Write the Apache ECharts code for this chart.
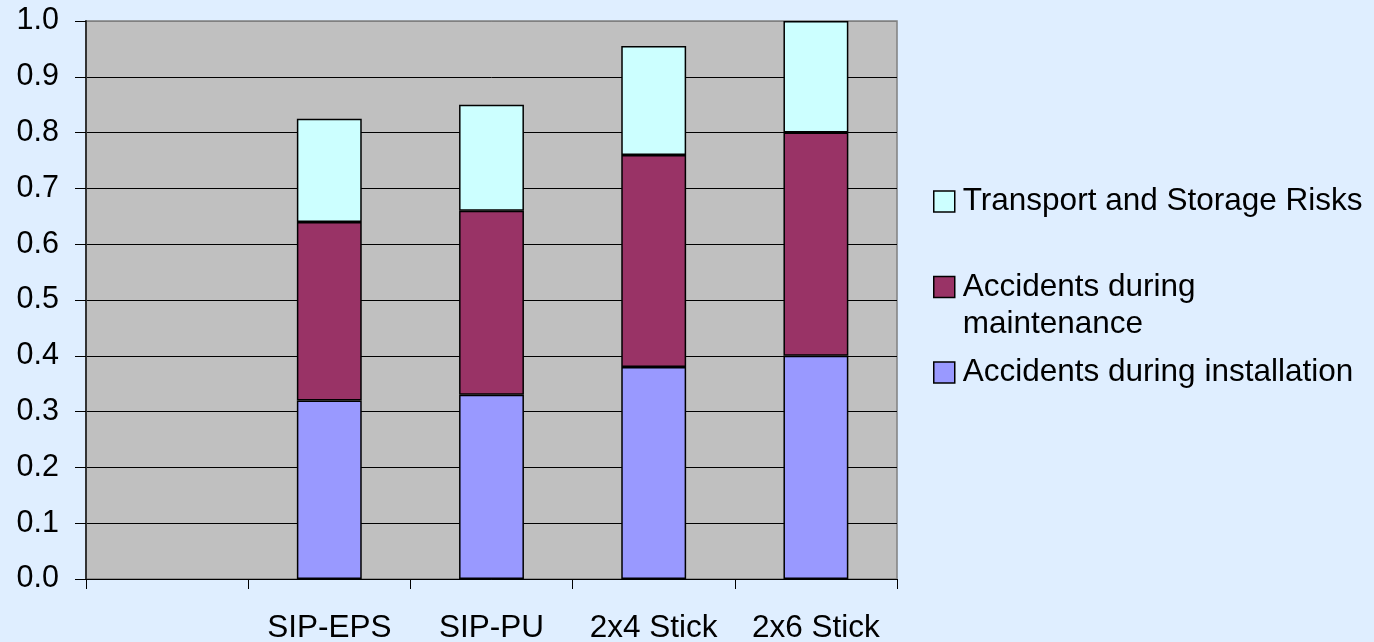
<!DOCTYPE html>
<html>
<head>
<meta charset="utf-8">
<script src="https://cdn.jsdelivr.net/npm/echarts@6/dist/echarts.min.js"></script>
<style>
html,body{margin:0;padding:0;background:#DFEEFF;}
#chart{width:1374px;height:642px;}
</style>
</head>
<body>
<div id="chart"></div>
<script>
var categories = ['', 'SIP-EPS', 'SIP-PU', '2x4 Stick', '2x6 Stick'];
var installation = [null, 0.32, 0.33, 0.38, 0.40];
var maintenance = [null, 0.32, 0.33, 0.38, 0.40];
var transport = [null, 0.185, 0.19, 0.195, 0.20];
var seriesNames = ['Accidents during installation', 'Accidents during maintenance', 'Transport and Storage Risks'];
var legendLabels = ['Accidents during installation', ' \nAccidents during\nmaintenance', 'Transport and Storage Risks'];
var colors = ['#9999FF', '#993366', '#CCFFFF'];

var FONT = '"Liberation Sans", Arial, sans-serif';
var FS = 31.5;
var FSY = 30.5;
var chart = echarts.init(document.getElementById('chart'), null, {renderer: 'canvas'});

function legendFor(i, top) {
  return {
    show: true,
    orient: 'vertical',
    left: 933,
    top: top,
    itemWidth: 21,
    itemHeight: 21,
    padding: 0,
    selectedMode: false,
    data: [{
      name: seriesNames[i],
      icon: 'rect',
      itemStyle: {color: colors[i], borderColor: '#000', borderWidth: 1.5},
      textStyle: {fontFamily: FONT, fontSize: FS, color: '#000', lineHeight: 37, padding: [0, 0, 0, 3]}
    }],
    formatter: function () { return legendLabels[i]; }
  };
}

var gridColors = ['#000','#000','#000','#000','#000','#000','#000','#000','#000','#000','#808080'];

var option = {
  backgroundColor: '#DFEEFF',
  animation: false,
  legend: [
    legendFor(2, 183),
    legendFor(1, 231.5),
    legendFor(0, 354)
  ],
  grid: {
    left: 86, right: 477, top: 21, bottom: 63,
    outerBoundsMode: 'none',
    containLabel: false,
    show: true, backgroundColor: '#C0C0C0', borderColor: '#808080', borderWidth: 1.5
  },
  xAxis: {
    type: 'category',
    data: categories,
    axisLine: {show: true, lineStyle: {color: '#000', width: 1}},
    axisTick: {show: true, length: 10, lineStyle: {color: '#000', width: 1}},
    axisLabel: {fontFamily: FONT, fontSize: FS, color: '#000', margin: 33, interval: 0},
    splitLine: {show: false}
  },
  yAxis: {
    type: 'value',
    min: 0, max: 1, interval: 0.1,
    axisLine: {show: true, lineStyle: {color: '#333', width: 2}},
    axisTick: {show: true, length: 11, lineStyle: {color: '#000', width: 1}},
    axisLabel: {fontFamily: FONT, fontSize: FSY, color: '#000', margin: 27,
      formatter: function (v) { return v.toFixed(1); }},
    splitLine: {show: true, lineStyle: {color: gridColors, width: 1}}
  },
  series: [
    {name: seriesNames[0], type: 'bar', stack: 'a', data: installation, barWidth: '40%',
      itemStyle: {color: colors[0], borderColor: '#000', borderWidth: 1.5}},
    {name: seriesNames[1], type: 'bar', stack: 'a', data: maintenance, barWidth: '40%',
      itemStyle: {color: colors[1], borderColor: '#000', borderWidth: 1.5}},
    {name: seriesNames[2], type: 'bar', stack: 'a', data: transport, barWidth: '40%',
      itemStyle: {color: colors[2], borderColor: '#000', borderWidth: 1.5}}
  ]
};
chart.setOption(option);
</script>
</body>
</html>
